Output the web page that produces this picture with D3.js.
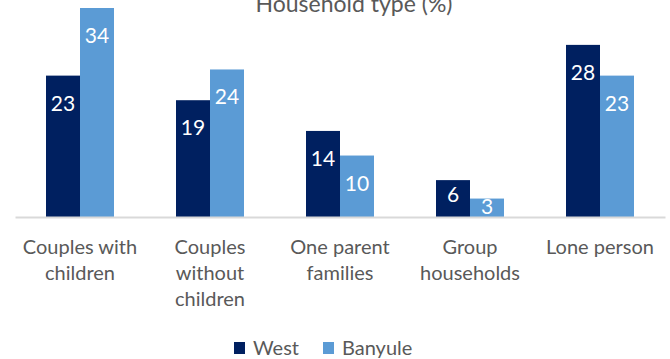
<!DOCTYPE html>
<html>
<head>
<meta charset="utf-8">
<script src="https://cdn.jsdelivr.net/npm/d3@7"></script>
<style>
  body { margin: 0; background: #fff; }
  svg text { font-family: Lato, "Open Sans", sans-serif; fill: #595959; }
</style>
</head>
<body>
<div id="chart"></div>
<script>
// data
var categories = ["Couples with children", "Couples without children", "One parent families", "Group households", "Lone person"];
var tickLines = [["Couples with", "children"], ["Couples", "without", "children"], ["One parent", "families"], ["Group", "households"], ["Lone person"]];
var seriesNames = ["West", "Banyule"];
var westValues = [23, 19, 14, 6, 28];
var banyuleValues = [34, 24, 10, 3, 23];
var colors = ["#002060", "#5B9BD5"];

var width = 670, height = 359;

var svg = d3.select("#chart").append("svg")
    .attr("width", width)
    .attr("height", height);

var x0 = d3.scaleBand()
    .domain(categories)
    .range([15, 665])
    .paddingInner(62 / 130)
    .paddingOuter(31 / 130);

var x1 = d3.scaleBand()
    .domain(seriesNames)
    .range([0, x0.bandwidth()]);

var y = d3.scaleLinear()
    .domain([0, 34])
    .range([217, 8]);

var rows = categories.map(function(c, i) {
  return {cat: c, values: [westValues[i], banyuleValues[i]]};
});

// title (partly cut off at top, as in the source)
svg.append("text")
    .attr("x", 354)
    .attr("y", 12)
    .attr("text-anchor", "middle")
    .style("font-size", "23px")
    .text("Household type (%)");

var groups = svg.selectAll(".grp")
    .data(rows)
  .enter().append("g")
    .attr("class", "grp")
    .attr("transform", function(d) { return "translate(" + x0(d.cat) + ",0)"; });

var bars = groups.selectAll("g.bar")
    .data(function(d) {
      return d.values.map(function(v, j) { return {name: seriesNames[j], value: v, idx: j}; });
    })
  .enter().append("g")
    .attr("class", "bar");

bars.append("rect")
    .attr("x", function(d) { return x1(d.name); })
    .attr("y", function(d) { return y(d.value); })
    .attr("width", x1.bandwidth())
    .attr("height", function(d) { return y(0) - y(d.value); })
    .attr("fill", function(d) { return colors[d.idx]; });

bars.append("text")
    .attr("x", function(d) { return x1(d.name) + x1.bandwidth() / 2; })
    .attr("y", function(d) {
      var h = y(0) - y(d.value);
      return y(d.value) + Math.min(35, Math.max(15, h * 0.58));
    })
    .attr("text-anchor", "middle")
    .style("font-size", "21px")
    .style("fill", "#fff")
    .text(function(d) { return d.value; });

// x axis
var xAxis = svg.append("g")
    .attr("transform", "translate(0," + 217 + ")")
    .call(d3.axisBottom(x0).tickSize(0).tickSizeOuter(0));

xAxis.select(".domain")
    .attr("stroke", "#D9D9D9")
    .attr("stroke-width", 2);

xAxis.selectAll(".tick text").remove();
xAxis.selectAll(".tick").each(function(d, i) {
  var t = d3.select(this).append("text")
      .attr("text-anchor", "middle")
      .attr("y", 37)
      .style("font-size", "20px")
      .style("fill", "#595959");
  tickLines[i].forEach(function(line, k) {
    t.append("tspan")
        .attr("x", 0)
        .attr("dy", k === 0 ? 0 : 26)
        .text(line);
  });
});

// legend
var legend = svg.append("g")
    .attr("transform", "translate(234,342)");

var legendX = [0, 89];
seriesNames.forEach(function(name, i) {
  legend.append("rect")
      .attr("x", legendX[i])
      .attr("y", 0)
      .attr("width", 11)
      .attr("height", 12)
      .attr("fill", colors[i]);
  legend.append("text")
      .attr("x", legendX[i] + 19)
      .attr("y", 13)
      .style("font-size", "20px")
      .text(name);
});
</script>
</body>
</html>
